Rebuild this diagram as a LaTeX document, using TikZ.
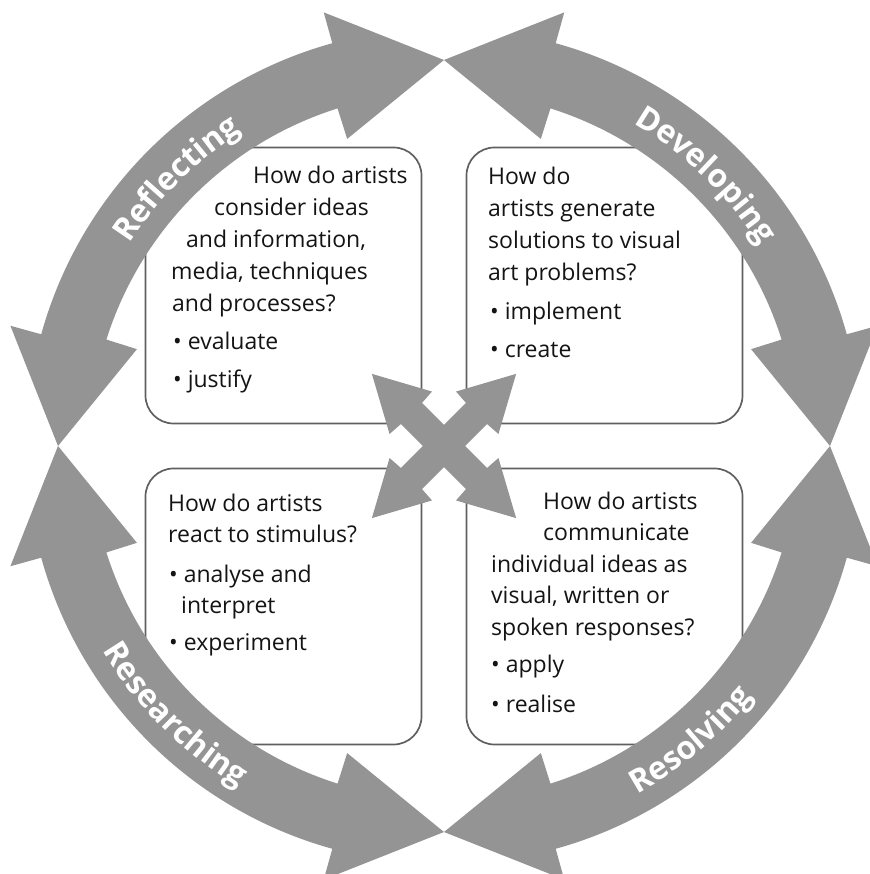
\documentclass[tikz,border=0pt]{standalone}
\usepackage{fontspec}
\setmainfont{Open Sans}
\usetikzlibrary{decorations.text}

\definecolor{ringgray}{RGB}{148,148,148}
\definecolor{framegray}{RGB}{95,95,95}
\definecolor{inkgray}{RGB}{20,20,20}

\newcommand\ringfont{\fontsize{32}{32}\selectfont\bfseries}

\tikzset{
  qbox/.style={draw=framegray, line width=1.7pt, fill=white,
    rounded corners=28pt, minimum width=276pt, minimum height=276pt,
    inner sep=0pt},
  qline/.style={anchor=base west, inner sep=0pt, text=inkgray,
    font=\fontsize{23}{27}\selectfont},
  ringlabel/.style={decorate, decoration={text along path, text align=center,
    text color=white, text={|\ringfont|#1}}}
}

\begin{document}
\begin{tikzpicture}[x=1pt, y=1pt]
\useasboundingbox (-444,-428) rectangle (425,446);

% the four question panels
\node[qbox] (tlbox) at (-160.5, 160.5) {};
\node[qbox] (trbox) at ( 160.5, 160.5) {};
\node[qbox] (blbox) at (-160.5,-160.5) {};
\node[qbox] (brbox) at ( 160.5,-160.5) {};

% ring of four double-headed arc arrows
\foreach \a in {0,90,180,270}{
  \fill[ringgray]
    (\a:386pt) -- (\a+15.5:450pt) -- (\a+15.5:418pt)
    arc[start angle=\a+15.5, end angle=\a+74.5, radius=418pt]
    -- (\a+74.5:450pt) -- (\a+90:386pt) -- (\a+72.5:322pt) -- (\a+72.5:354pt)
    arc[start angle=\a+72.5, end angle=\a+17.5, radius=354pt]
    -- (\a+17.5:322pt) -- cycle;
}

% central four-way arrow
\foreach \r in {45,-45}{
  \fill[ringgray, rotate=\r]
    (102,0) -- (47,30) -- (46,15) -- (-46,15) -- (-47,30) -- (-102,0)
    -- (-47,-30) -- (-46,-15) -- (46,-15) -- (47,-30) -- cycle;
}

% stage names along the ring
\path[ringlabel=Reflecting]  (165:374pt) arc[start angle=165, end angle=105, radius=374pt];
\path[ringlabel=Developing]  (76:374pt)  arc[start angle=76,  end angle=16,  radius=374pt];
\path[ringlabel=Researching] (195:398pt) arc[start angle=195, end angle=255, radius=398pt];
\path[ringlabel=Resolving]   (280:398pt) arc[start angle=280, end angle=340, radius=398pt];

% top-left panel
\node[qline] (tl1) at (-191, 262) {How do artists};
\node[qline] (tl2) at (-230, 230) {consider ideas};
\node[qline] (tl3) at (-258, 198) {and information,};
\node[qline] (tl4) at (-273, 166) {media, techniques};
\node[qline] (tl5) at (-272, 134) {and processes?};
\node[qline] (tl6) at (-271,  96) {• evaluate};
\node[qline] (tl7) at (-271,  58) {• justify};

% top-right panel
\node[qline] (tr1) at (44, 261) {How do};
\node[qline] (tr2) at (44, 229) {artists generate};
\node[qline] (tr3) at (44, 197) {solutions to visual};
\node[qline] (tr4) at (44, 165) {art problems?};
\node[qline] (tr5) at (46, 126) {• implement};
\node[qline] (tr6) at (46,  88) {• create};

% bottom-left panel
\node[qline] (bl1) at (-276, -66) {How do artists};
\node[qline] (bl2) at (-276, -97) {react to stimulus?};
\node[qline] (bl3) at (-275,-136) {• analyse and};
\node[qline] (bl4) at (-263,-167) {interpret};
\node[qline] (bl5) at (-275,-204) {• experiment};

% bottom-right panel
\node[qline] (br1) at (99,  -64) {How do artists};
\node[qline] (br2) at (99,  -95) {communicate};
\node[qline] (br3) at (47, -126) {individual ideas as};
\node[qline] (br4) at (47, -157) {visual, written or};
\node[qline] (br5) at (47, -189) {spoken responses?};
\node[qline] (br6) at (47, -226) {• apply};
\node[qline] (br7) at (47, -266) {• realise};
\end{tikzpicture}
\end{document}
